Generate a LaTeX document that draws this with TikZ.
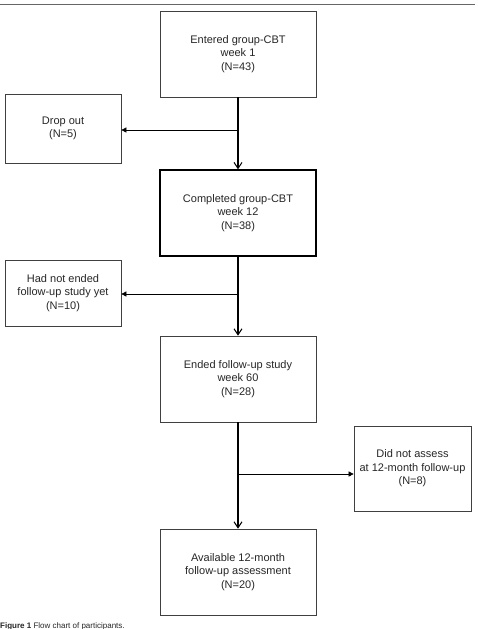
\documentclass[tikz,border=0pt]{standalone}
\usepackage{fontspec}
\setmainfont{Liberation Sans}
\usetikzlibrary{arrows.meta}
\begin{document}
\begin{tikzpicture}[x=1pt,y=-1pt,
  box/.style={draw=black!75,line width=0.7pt,align=center,inner sep=0pt,font=\fontsize{11}{13.5}\selectfont,text=black!85},
  bigbox/.style={box,minimum width=156pt,minimum height=86pt},
  sidebox/.style={box,minimum width=116pt},
  main/.style={line width=1.2pt,-{Straight Barb[length=6pt,width=8pt,line width=1pt]}},
  side/.style={line width=0.6pt,-{Triangle[length=5pt,width=5pt]}}]
\useasboundingbox (0,0) rectangle (477,629);
\draw[black!60,line width=0.8pt] (0,4.5) -- (475,4.5);
\node[bigbox] (b1) at (238,54) {Entered group-CBT\\week 1\\(N=43)};
\node[sidebox,minimum height=69pt] (d1) at (63,128.5) {Drop out\\(N=5)};
\node[bigbox,line width=1.4pt,draw=black] (b2) at (238,213) {Completed group-CBT\\week 12\\(N=38)};
\node[sidebox,minimum height=66pt] (d2) at (63,293) {Had not ended\\follow-up study yet\\(N=10)};
\node[bigbox] (b3) at (238,379) {Ended follow-up study\\week 60\\(N=28)};
\node[box,minimum width=117pt,minimum height=85pt] (d3) at (412.5,468.5) {Did not assess\\at 12-month follow-up\\(N=8)};
\node[bigbox] (b4) at (238,572) {Available 12-month\\follow-up assessment\\(N=20)};
\coordinate (j1) at (238,130);
\coordinate (j2) at (238,294);
\coordinate (j3) at (238,474);
\draw[main] (b1.south) -- (b2.north);
\draw[main] (b2.south) -- (b3.north);
\draw[main] (b3.south) -- (b4.north);
\draw[side] (j1) -- (d1.east |- j1);
\draw[side] (j2) -- (d2.east |- j2);
\draw[side] (j3) -- (d3.west |- j3);
\node[anchor=west,inner sep=0pt,font=\fontsize{8}{9}\selectfont,text=black!85] (cap) at (0,626) {\textbf{Figure 1} Flow chart of participants.};
\end{tikzpicture}
\end{document}
